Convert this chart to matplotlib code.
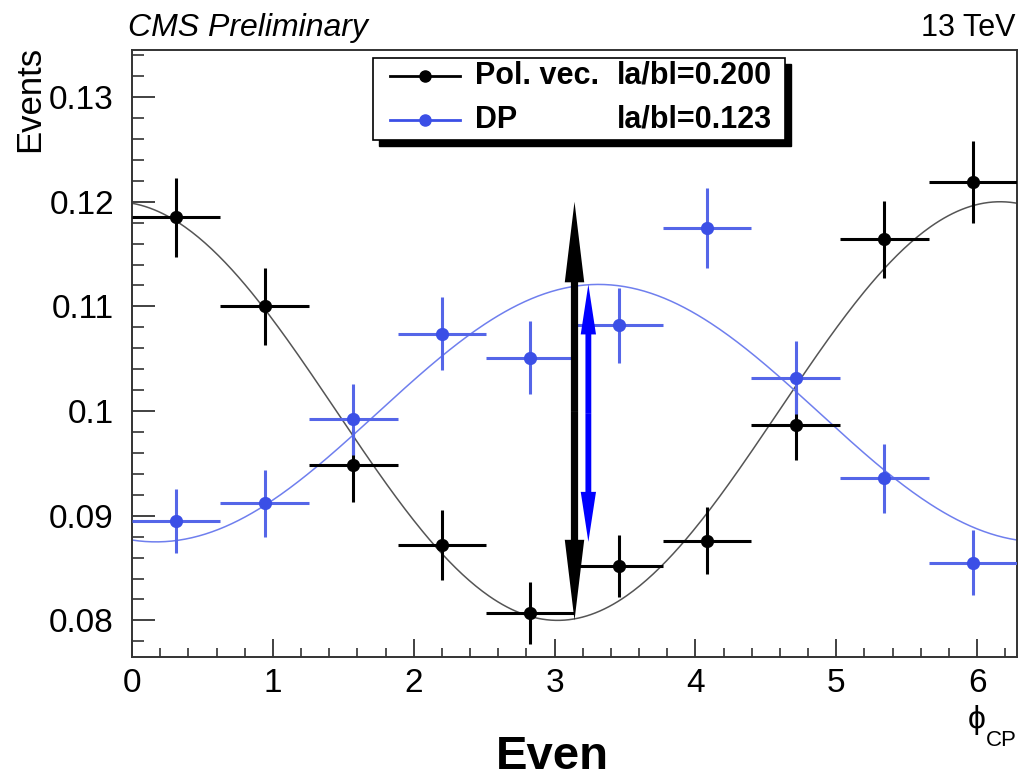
import matplotlib.pyplot as plt
import numpy as np
from matplotlib.patches import FancyArrowPatch, Rectangle
from matplotlib.lines import Line2D
from matplotlib.ticker import MultipleLocator

plt.rcParams['font.family'] = ['Liberation Sans', 'DejaVu Sans']

# bin centres (10 bins over 0..2pi) and values
phi = [0.314, 0.942, 1.571, 2.199, 2.827, 3.456, 4.084, 4.712, 5.341, 5.969]
phi_halfwidth = 0.314

pol_vals = [0.1185, 0.1100, 0.0948, 0.0872, 0.0807, 0.0852, 0.0876, 0.0987, 0.1164, 0.1219]
pol_errs = [0.0038, 0.0037, 0.0035, 0.0033, 0.0030, 0.0030, 0.0032, 0.0034, 0.0037, 0.0039]

dp_vals = [0.0895, 0.0912, 0.0992, 0.1074, 0.1051, 0.1082, 0.1175, 0.1032, 0.0936, 0.0855]
dp_errs = [0.0031, 0.0032, 0.0034, 0.0035, 0.0035, 0.0036, 0.0038, 0.0035, 0.0033, 0.0031]

# fit parameters: a +/- b*cos(phi - shift)
pol_a, pol_b, pol_shift = 0.1000, 0.0200, -0.12
dp_a, dp_b, dp_shift = 0.0998, 0.0123, 0.17

# where the amplitude arrows stand
pol_arrow_x = np.pi
dp_arrow_x = 3.24

pol_label = "Pol. vec."
dp_label = "DP"
pol_ratio = "la/bl=0.200"
dp_ratio = "la/bl=0.123"

yticks = [0.08, 0.09, 0.10, 0.11, 0.12, 0.13]
ytick_labels = ['0.08', '0.09', '0.1', '0.11', '0.12', '0.13']

W, H = 1020, 779
BLUE = '#3b4fe6'
BLUE_LINE = '#6f7fee'


def fpx(x, y):
    # pixel position (from top-left) -> figure fraction
    return x / W, 1 - y / H


def double_arrow(ax, x, lo, hi, color, hl, hw, tw):
    # two filled "simple" arrows from the middle out to each end
    mid = 0.5 * (lo + hi)
    style = 'simple,head_length=%g,head_width=%g,tail_width=%g' % (hl, hw, tw)
    for end in (lo, hi):
        a = FancyArrowPatch((x, mid), (x, end), arrowstyle=style, mutation_scale=1,
                            color=color, lw=0, shrinkA=0, shrinkB=0, zorder=5)
        ax.add_patch(a)


fig = plt.figure(figsize=(W / 100, H / 100), dpi=100)
ax = fig.add_axes([132 / W, 1 - 657 / H, (1017 - 132) / W, (657 - 50) / H])

xs = np.linspace(0, 2 * np.pi, 400)
ax.plot(xs, pol_a + pol_b * np.cos(xs - pol_shift), color='#555555', lw=1.1, zorder=2)
ax.plot(xs, dp_a - dp_b * np.cos(xs - dp_shift), color=BLUE_LINE, lw=1.1, zorder=2)

ax.errorbar(phi, pol_vals, xerr=phi_halfwidth, yerr=pol_errs, fmt='o', color='black',
            ms=8.5, elinewidth=2.2, capsize=0, zorder=3)
ax.errorbar(phi, dp_vals, xerr=phi_halfwidth, yerr=dp_errs, fmt='o', color=BLUE,
            ecolor='#5566e8', ms=8.5, elinewidth=2.2, capsize=0, zorder=3)

double_arrow(ax, pol_arrow_x, pol_a - pol_b, pol_a + pol_b, 'black', 58, 14, 5.2)
double_arrow(ax, dp_arrow_x, dp_a - dp_b, dp_a + dp_b, '#0000ff', 36, 11, 4.2)

ax.set_xlim(0, 2 * np.pi)
ax.set_ylim(0.0765, 0.1345)
ax.set_xticks(range(7))
ax.xaxis.set_minor_locator(MultipleLocator(0.2))
ax.set_yticks(yticks)
ax.set_yticklabels(ytick_labels)
ax.yaxis.set_minor_locator(MultipleLocator(0.002))
ax.tick_params(axis='both', which='both', direction='in', labelsize=24,
               color='#333333', top=False, right=False)
ax.tick_params(axis='y', which='major', length=16.5, width=1.3, pad=13)
ax.tick_params(axis='y', which='minor', length=8.5, width=1.2)
ax.tick_params(axis='x', which='major', length=13, width=1.3, pad=8)
ax.tick_params(axis='x', which='minor', length=6.5, width=1.2)
for s in ax.spines.values():
    s.set_linewidth(1.4)
    s.set_color('#333333')

# texts around the frame
fig.text(*fpx(128, 28), "CMS Preliminary", style='italic', fontsize=23, ha='left', va='center')
fig.text(*fpx(1016, 28), "13 TeV", fontsize=22, ha='right', va='center')
fig.text(*fpx(30, 46), "Events", fontsize=25, rotation=90, ha='center', va='top')
fig.text(*fpx(977, 720), "\u03d5", fontsize=23, ha='center', va='center')
fig.text(*fpx(986, 740), "CP", fontsize=16, ha='left', va='center')
fig.text(*fpx(552, 757), "Even", fontsize=34, fontweight='bold', ha='center', va='center')

# legend box with ROOT-like shadow
lx0, ly0, lx1, ly1 = 373, 58, 785, 140
sh = Rectangle(fpx(lx0 + 6, ly1 + 6), (lx1 - lx0) / W, (ly1 - ly0) / H,
               transform=fig.transFigure, facecolor='black', edgecolor='black', zorder=10)
box = Rectangle(fpx(lx0, ly1), (lx1 - lx0) / W, (ly1 - ly0) / H,
                transform=fig.transFigure, facecolor='white', edgecolor='black', lw=1.2, zorder=11)
fig.add_artist(sh)
fig.add_artist(box)

for row_y, col, lab, rat in [(76, 'black', pol_label, pol_ratio),
                             (120, BLUE, dp_label, dp_ratio)]:
    x0, y0 = fpx(390, row_y)
    x1, _ = fpx(460, row_y)
    xm, _ = fpx(425, row_y)
    fig.add_artist(Line2D([x0, x1], [y0, y0], color=col, lw=2, transform=fig.transFigure, zorder=12))
    fig.add_artist(Line2D([xm], [y0], marker='o', ms=8, color=col, transform=fig.transFigure, zorder=12))
    fig.text(*fpx(475, row_y), lab, fontsize=22, fontweight='bold', ha='left', va='center', zorder=13)
    fig.text(*fpx(772, row_y), rat, fontsize=22, fontweight='bold', ha='right', va='center', zorder=13)

fig.savefig('out.png', dpi=100)
